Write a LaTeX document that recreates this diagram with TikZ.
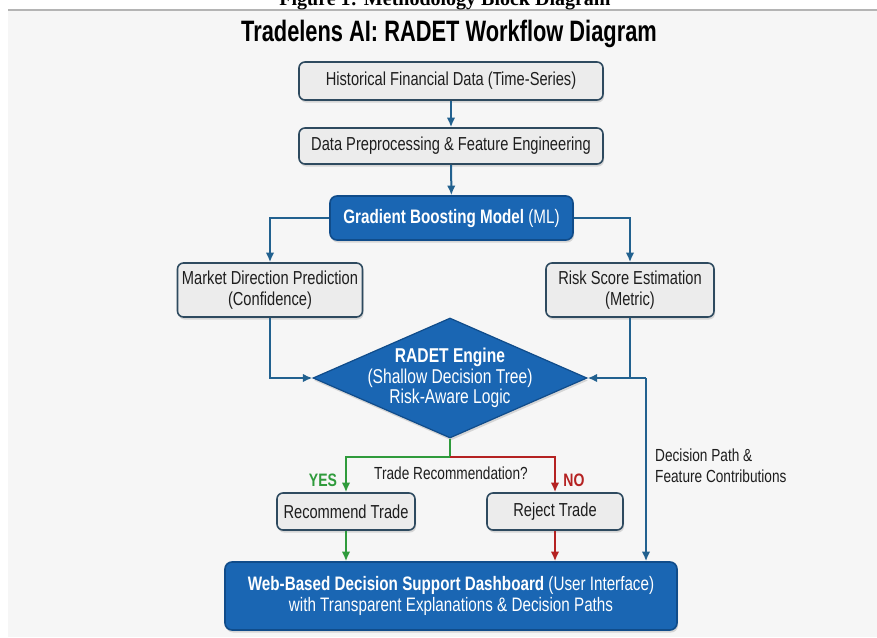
\documentclass[tikz,border=0pt]{standalone}
\usepackage{fontspec}
\setmainfont{Liberation Sans}
\newfontfamily\condfont[FakeStretch=0.78]{Liberation Sans}
\newfontfamily\titlefont[FakeStretch=0.74]{Liberation Sans}
\newfontfamily\capfont{Liberation Serif}
\usetikzlibrary{arrows.meta,shapes.geometric,shadows}

\definecolor{pagebg}{HTML}{F6F6F6}
\definecolor{rulegrey}{HTML}{B4B4B4}
\definecolor{boxfill}{HTML}{ECECEC}
\definecolor{boxline}{HTML}{2E4A5F}
\definecolor{bluefill}{HTML}{1A66B3}
\definecolor{blueline}{HTML}{104C8A}
\definecolor{flowblue}{HTML}{22618F}
\definecolor{yesgreen}{HTML}{2F9B3C}
\definecolor{nored}{HTML}{B52222}
\definecolor{textdark}{HTML}{1E1E1E}

\tikzset{
  softshadow/.style={drop shadow={shadow xshift=1pt, shadow yshift=-2.5pt, opacity=0.28}},
  greybox/.style={draw=boxline, line width=1.6pt, fill=boxfill, rounded corners=6pt,
    text=textdark, align=center, inner sep=0pt, softshadow,
    font=\condfont\fontsize{18.8}{20.5}\selectfont},
  bluebox/.style={draw=blueline, line width=1.6pt, fill=bluefill, rounded corners=7pt,
    text=white, align=center, inner sep=0pt, softshadow},
  flow/.style={draw=flowblue, line width=2pt},
  yesflow/.style={draw=yesgreen, line width=2pt},
  noflow/.style={draw=nored, line width=2pt},
  tip/.style={-{Latex[length=9.5pt,width=8.5pt]}},
  lbl/.style={text=textdark, inner sep=0pt, font=\condfont\fontsize{17.5}{21}\selectfont}
}

\begin{document}
\begin{tikzpicture}[x=1pt,y=-1pt]
\useasboundingbox (0,0) rectangle (877,637);
\clip (0,0) rectangle (877,637);

% page and figure background
\fill[white] (0,0) rectangle (877,637);
\fill[pagebg] (8,11) rectangle (877,637);
\draw[rulegrey, line width=2pt] (8,10) -- (877,10);

% caption running off the top edge
\node[anchor=base, inner sep=0pt, font=\capfont\bfseries\fontsize{20}{22}\selectfont]
  (caption) at (445,5.5) {Figure 1: Methodology Block Diagram};

% heading
\node[inner sep=0pt, text=black, font=\titlefont\bfseries\fontsize{29.5}{33}\selectfont]
  (title) at (449,34) {Tradelens AI: RADET Workflow Diagram};

% blocks
\node[greybox, minimum width=304pt, minimum height=38pt] (hist) at (451,81)
  {Historical Financial Data (Time-Series)};
\node[greybox, minimum width=304pt, minimum height=36pt] (prep) at (451,146)
  {Data Preprocessing \& Feature Engineering};
\node[bluebox, minimum width=243pt, minimum height=44pt,
  font=\condfont\fontsize{19.5}{22}\selectfont] (gbm) at (451.5,218)
  {\textbf{Gradient Boosting Model} (ML)};
\node[greybox, minimum width=185pt, minimum height=54pt] (mkt) at (270,290)
  {Market Direction Prediction\\(Confidence)};
\node[greybox, minimum width=168pt, minimum height=54pt] (risk) at (630,290)
  {Risk Score Estimation\\(Metric)};

% decision engine
\node[diamond, fill=bluefill, draw=blueline, line width=1.2pt, inner sep=0pt,
  minimum width=274pt, minimum height=120pt, softshadow] (eng) at (450,378) {};
\node[text=white, align=center, inner sep=0pt,
  font=\condfont\fontsize{20}{20.5}\selectfont] (engtext) at (450,378)
  {\textbf{RADET Engine}\\(Shallow Decision Tree)\\Risk-Aware Logic};

\node[greybox, minimum width=138pt, minimum height=37pt] (rec) at (346,511.5)
  {Recommend Trade};
\node[greybox, minimum width=136pt, minimum height=37pt] (rej) at (555,511.5)
  {Reject Trade};

\node[bluebox, minimum width=452pt, minimum height=68pt,
  font=\condfont\fontsize{19.5}{21.5}\selectfont] (dash) at (451,596)
  {\textbf{Web-Based Decision Support Dashboard} (User Interface)\\
   with Transparent Explanations \& Decision Paths};

% connectors
\coordinate (fork) at (450,457);
\coordinate (dp) at (646,378);

\draw[flow, tip] (hist) -- (prep);
\draw[flow, tip] (prep) -- (gbm);
\draw[flow, tip] (gbm.west) -| (mkt.north);
\draw[flow, tip] (gbm.east) -| (risk.north);
\draw[flow, tip] (mkt.south) |- (eng.west);
\draw[flow] (risk.south) -- (risk.south |- dp);
\draw[flow, tip] (dp) -- (eng.east);
\draw[flow, tip] (dp) -- (dp |- dash.north);

\draw[yesflow, tip] (eng.south) -- (fork) -| (rec.north);
\draw[noflow, tip] (fork) -| (rej.north);
\draw[yesflow, tip] (rec.south) -- (rec.south |- dash.north);
\draw[noflow, tip] (rej.south) -- (rej.south |- dash.north);

% labels
\node[lbl, font=\condfont\bfseries\fontsize{18}{20}\selectfont, text=yesgreen]
  (yes) at (323,480) {YES};
\node[lbl, font=\condfont\bfseries\fontsize{18}{20}\selectfont, text=nored]
  (no) at (574,480) {NO};
\node[lbl] (question) at (451,473) {Trade Recommendation?};
\node[lbl, anchor=west, align=left] (pathlbl) at (655,466)
  {Decision Path \&\\Feature Contributions};
\end{tikzpicture}
\end{document}
